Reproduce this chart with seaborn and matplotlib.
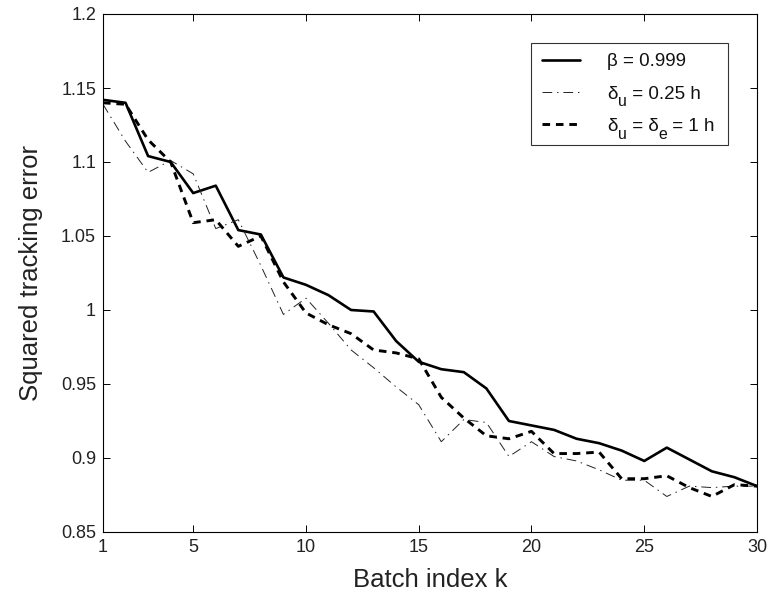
import matplotlib
matplotlib.use("Agg")
import matplotlib.pyplot as plt
from matplotlib.transforms import IdentityTransform
from matplotlib.text import Text
import seaborn as sns
import pandas as pd

batch_k = list(range(1, 31))
beta_0999 = [1.142, 1.140, 1.104, 1.100, 1.079, 1.084, 1.054, 1.051, 1.022, 1.017,
             1.010, 1.000, 0.999, 0.979, 0.965, 0.960, 0.958, 0.947, 0.925, 0.922,
             0.919, 0.913, 0.910, 0.905, 0.898, 0.907, 0.899, 0.891, 0.887, 0.881]
delta_u_025 = [1.139, 1.114, 1.093, 1.101, 1.092, 1.055, 1.061, 1.030, 0.997, 1.008,
               0.991, 0.973, 0.961, 0.948, 0.936, 0.911, 0.926, 0.924, 0.901, 0.911,
               0.901, 0.898, 0.892, 0.885, 0.885, 0.874, 0.881, 0.880, 0.881, 0.881]
delta_ue_1 = [1.140, 1.139, 1.115, 1.100, 1.059, 1.061, 1.043, 1.050, 1.019, 0.998,
              0.990, 0.984, 0.973, 0.971, 0.967, 0.941, 0.927, 0.915, 0.913, 0.918,
              0.903, 0.903, 0.904, 0.886, 0.886, 0.888, 0.880, 0.874, 0.882, 0.881]
# legend labels as (text, is_subscript) pieces
label_pieces = [
    [("β = 0.999", False)],
    [("δ", False), ("u", True), (" = 0.25 h", False)],
    [("δ", False), ("u", True), (" = δ", False), ("e", True), (" = 1 h", False)],
]
x_ticks = [1, 5, 10, 15, 20, 25, 30]
y_ticks = [0.85, 0.9, 0.95, 1.0, 1.05, 1.1, 1.15, 1.2]
y_ticklabels = ["0.85", "0.9", "0.95", "1", "1.05", "1.1", "1.15", "1.2"]

sns.set_theme(style="white")
plt.rcParams["font.family"] = ["Liberation Sans", "DejaVu Sans"]

fig = plt.figure(figsize=(7.71, 5.96), dpi=100)
ax = fig.add_axes([103 / 771, 1 - 532 / 596, (757 - 103) / 771, (532 - 14) / 596])

df = pd.DataFrame({"k": batch_k, "a": beta_0999, "b": delta_u_025, "c": delta_ue_1})
plain_labels = ["".join(p for p, _ in pieces) for pieces in label_pieces]

sns.lineplot(data=df, x="k", y="a", ax=ax, color="black", linewidth=1.9,
             linestyle="-", label=plain_labels[0])
sns.lineplot(data=df, x="k", y="b", ax=ax, color="#222222", linewidth=0.7,
             linestyle=(0, (10, 5, 1.5, 5)), label=plain_labels[1])
sns.lineplot(data=df, x="k", y="c", ax=ax, color="black", linewidth=2.1,
             linestyle=(0, (2.6, 2.0)), label=plain_labels[2])

ax.set_xlim(1, 30)
ax.set_ylim(0.85, 1.2)
ax.set_xticks(x_ticks)
ax.set_xticklabels([str(t) for t in x_ticks])
ax.set_yticks(y_ticks)
ax.set_yticklabels(y_ticklabels)
ax.tick_params(direction="in", length=5, width=0.7, colors="black",
               labelsize=13, top=True, right=True, bottom=True, left=True, pad=5)
for lab in ax.get_xticklabels() + ax.get_yticklabels():
    lab.set_color("#222222")
for s in ax.spines.values():
    s.set_color("black")
    s.set_linewidth(0.8)
    s.set_visible(True)

ax.set_xlabel("Batch index k", fontsize=18.5, color="#222222", labelpad=9)
ax.set_ylabel("Squared tracking error", fontsize=18.5, color="#222222", labelpad=13)

LFS = 13.5
leg = ax.legend(loc="upper right", bbox_to_anchor=((728 - 103) / 654, (532 - 43) / 518),
                borderaxespad=0, fontsize=LFS, handlelength=2.05, handletextpad=1.45,
                labelspacing=0.8, frameon=True, fancybox=False, borderpad=0.55)
leg.get_frame().set_edgecolor("black")
leg.get_frame().set_linewidth(0.8)

# redraw legend labels with lowered, MATLAB-style subscripts
fig.canvas.draw()
renderer = fig.canvas.get_renderer()
px_per_pt = fig.dpi / 72.0


def text_width(s, size):
    t = Text(0, 0, s, fontsize=size, fontfamily=["Liberation Sans", "DejaVu Sans"])
    t.set_figure(fig)
    return t.get_window_extent(renderer).width


for txt, pieces in zip(leg.get_texts(), label_pieces):
    x0, y0 = txt.get_transform().transform(txt.get_position())
    txt.set_alpha(0)
    x = x0
    for s, is_sub in pieces:
        size = LFS * 0.85 if is_sub else LFS
        y = y0 - 0.42 * LFS * px_per_pt if is_sub else y0
        fig.text(x, y, s, fontsize=size, color="#111111", ha="left", va="baseline",
                 transform=IdentityTransform())
        x += text_width(s.replace(" ", "\u00a0"), size)

fig.savefig("out.png", dpi=100)
